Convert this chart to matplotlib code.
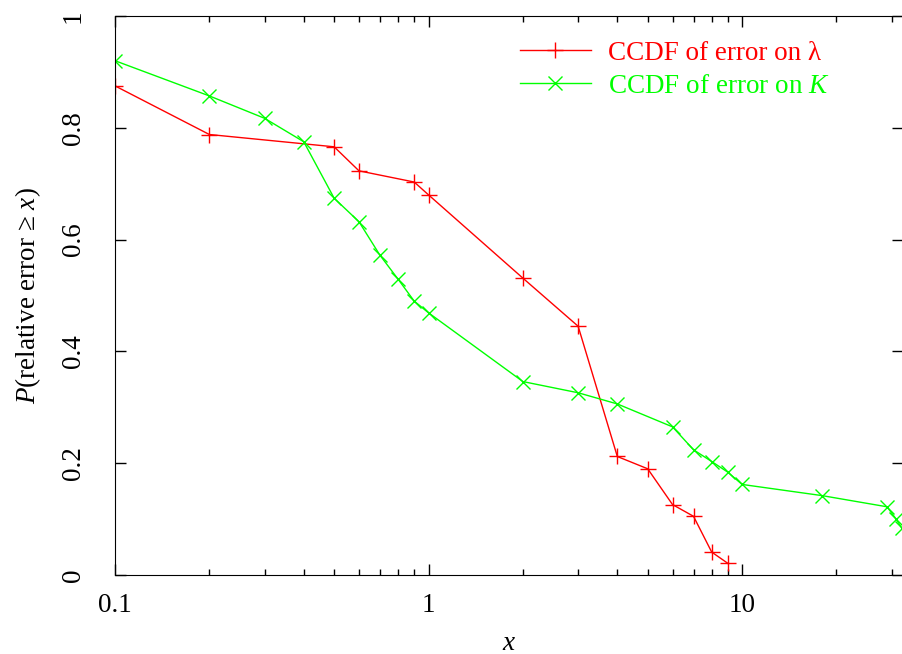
import matplotlib
matplotlib.use("Agg")
import matplotlib.pyplot as plt
from matplotlib.ticker import LogLocator, FixedLocator, NullFormatter

plt.rcParams["font.family"] = ["Liberation Serif", "DejaVu Serif"]
plt.rcParams["mathtext.fontset"] = "custom"
plt.rcParams["mathtext.rm"] = "Liberation Serif"
plt.rcParams["mathtext.it"] = "Liberation Serif:italic"

# CCDF of relative error on lambda
lam_x = [0.1, 0.2, 0.5, 0.6, 0.9, 1, 2, 3, 4, 5, 6, 7, 8, 9]
lam_y = [0.875, 0.788, 0.766, 0.723, 0.703, 0.680, 0.531, 0.445,
         0.212, 0.190, 0.126, 0.105, 0.041, 0.021]

# CCDF of relative error on K
k_x = [0.1, 0.2, 0.3, 0.4, 0.5, 0.6, 0.7, 0.8, 0.9, 1, 2, 3, 4, 6,
       7, 8, 9, 10, 18, 29, 31, 32.3]
k_y = [0.920, 0.857, 0.817, 0.775, 0.674, 0.632, 0.572, 0.529, 0.490,
       0.469, 0.346, 0.326, 0.306, 0.265, 0.224, 0.203, 0.184, 0.162,
       0.142, 0.122, 0.100, 0.084]

fs = 19.5

fig = plt.figure(figsize=(9.03, 6.54), dpi=100)
ax = fig.add_axes([115 / 903, 79 / 654, 788 / 903, 559 / 654])

ax.plot(lam_x, lam_y, color="#ff0000", lw=1, marker="+", ms=11, mew=1,
        label=r"CCDF of error on λ")
ax.plot(k_x, k_y, color="#00ff00", lw=1, marker="x", ms=10, mew=1,
        label=r"CCDF of error on $K$")

ax.set_xscale("log")
ax.set_xlim(0.1, 32.6)
ax.set_ylim(0, 1)

ax.xaxis.set_major_locator(FixedLocator([0.1, 1, 10]))
ax.xaxis.set_major_formatter(plt.FixedFormatter(["0.1", "1", "10"]))
ax.xaxis.set_minor_locator(LogLocator(base=10, subs=range(2, 10), numticks=20))
ax.xaxis.set_minor_formatter(NullFormatter())
ax.set_yticks([0, 0.2, 0.4, 0.6, 0.8, 1])
ax.set_yticklabels(["0", "0.2", "0.4", "0.6", "0.8", "1"], rotation=90,
                   va="center")

ax.tick_params(which="both", direction="in", top=True, right=True,
               labelsize=fs, width=1)
ax.tick_params(which="major", length=8)
ax.tick_params(which="minor", length=4)
ax.tick_params(axis="x", pad=13)
ax.tick_params(axis="y", pad=21)
ax.spines["right"].set_visible(False)

ax.set_xlabel(r"$x$", fontsize=fs, labelpad=9)
ax.set_ylabel(r"$P$(relative error ≥ $x$)", fontsize=fs, labelpad=13)

leg = ax.legend(loc="upper right", bbox_to_anchor=(0.927, 0.985),
                frameon=False, fontsize=fs, handlelength=2.65,
                handletextpad=0.6, labelspacing=0.3, borderaxespad=0.2)
for text, line in zip(leg.get_texts(), leg.get_lines()):
    text.set_color(line.get_color())

fig.savefig("out.png", dpi=100)
